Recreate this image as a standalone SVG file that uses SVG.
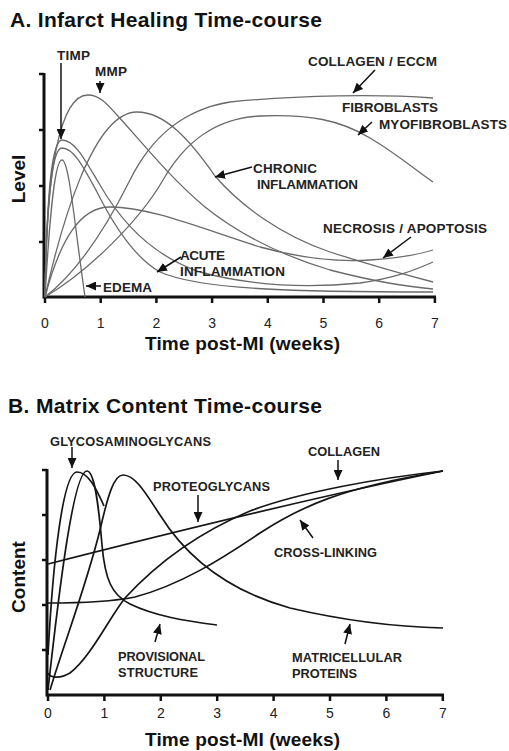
<svg xmlns="http://www.w3.org/2000/svg" width="509" height="751" viewBox="0 0 509 751">
<style>
.title{font-family:"Liberation Sans",Arial,sans-serif;font-weight:bold;font-size:21px;fill:#111}
.axlab{font-family:"Liberation Sans",Arial,sans-serif;font-weight:bold;font-size:19px;fill:#111}
.tick{font-family:"Liberation Sans",Arial,sans-serif;font-size:14px;fill:#222;text-anchor:middle}
.la{font-family:"Liberation Sans",Arial,sans-serif;font-weight:bold;font-size:13.5px;fill:#222}
.lb{font-family:"Liberation Sans",Arial,sans-serif;font-weight:bold;font-size:12.8px;fill:#222}
.axis{stroke:#111;stroke-width:3;fill:none}
.tk{stroke:#111;stroke-width:2.5;fill:none}
.ca{stroke:#6a6a6a;stroke-width:1.3;fill:none}
.cb{stroke:#151515;stroke-width:1.7;fill:none}
.arr{stroke:#111;stroke-width:1.5;fill:none;marker-end:url(#ah)}
</style>
<defs>
<marker id="ah" markerUnits="userSpaceOnUse" markerWidth="11" markerHeight="9" refX="10" refY="4.5" orient="auto">
<path d="M0,0 L10,4.5 L0,9 z" fill="#111"/>
</marker>
</defs>
<rect width="509" height="751" fill="#fff"/>

<g id="panelA">
<text class="title" x="10" y="27" textLength="312">A. Infarct Healing Time-course</text>
<g id="axesA">
<path class="axis" d="M44,73 V297 H436"/>
<path class="tk" d="M39,74 H44 M39,130 H44 M39,186 H44 M39,242 H44"/>
<path class="tk" d="M45,297 V303 M100.7,297 V303 M156.4,297 V303 M212.1,297 V303 M267.8,297 V303 M323.5,297 V303 M379.2,297 V303 M434.9,297 V303"/>
<text class="tick" x="45" y="328">0</text>
<text class="tick" x="100.7" y="328">1</text>
<text class="tick" x="156.4" y="328">2</text>
<text class="tick" x="212.1" y="328">3</text>
<text class="tick" x="267.8" y="328">4</text>
<text class="tick" x="323.5" y="328">5</text>
<text class="tick" x="379.2" y="328">6</text>
<text class="tick" x="434.9" y="328">7</text>
<text class="axlab" x="145" y="350" textLength="195">Time post-MI (weeks)</text>
<text class="axlab" transform="translate(25,179) rotate(-90)" text-anchor="middle">Level</text>
</g>
<g id="curvesA">
<path id="edema" class="ca" d="M45,297 C50,210 55,160 62,160 C69,160 74,220 85,297"/>
<path id="timp" class="ca" d="M45,297 C47,190 52,140 62,140 C75,140 85,160 100,185 C120,220 150,255 200,272 C260,288 320,287 360,283 C395,278 415,270 433,262"/>
<path id="acute" class="ca" d="M45,297 C47,195 52,148 62,148 C74,148 84,168 97,192 C115,228 135,258 160,272 C200,290 300,292 433,292"/>
<path id="mmp" class="ca" d="M45,297 C46,170 60,95 88,95 C100,95 108,105 117,115 C140,140 170,178 205,207 C240,235 280,255 330,270 C380,283 410,287 433,289"/>
<path id="chronic" class="ca" d="M45,297 C60,230 92,112 137,112 C165,112 190,140 215,176 C240,205 280,235 330,252 C380,268 410,276 433,282"/>
<path id="collagenA" class="ca" d="M45,297 C80,270 110,220 130,180 C150,140 180,110 230,102 C300,95 380,94 433,98"/>
<path id="fibro" class="ca" d="M45,297 C90,270 140,220 163,180 C185,142 215,118 260,116 C310,114 340,120 370,138 C400,156 415,170 433,182"/>
<path id="necrosis" class="ca" d="M45,297 C60,240 80,207 110,207 C150,207 200,228 260,247 C300,258 340,262 370,260 C400,258 420,254 433,250"/>
</g>
<g id="labelsA">
<text class="la" x="57" y="60" textLength="33">TIMP</text>
<text class="la" x="95" y="76" textLength="32">MMP</text>
<text class="la" x="308" y="66" textLength="129">COLLAGEN / ECCM</text>
<text class="la" x="342" y="112" textLength="96">FIBROBLASTS</text>
<text class="la" x="379" y="129" textLength="128">MYOFIBROBLASTS</text>
<text class="la" x="253" y="173" textLength="64">CHRONIC</text>
<text class="la" x="257" y="189" textLength="101">INFLAMMATION</text>
<text class="la" x="323" y="233" textLength="164">NECROSIS / APOPTOSIS</text>
<text class="la" x="180" y="260" textLength="45">ACUTE</text>
<text class="la" x="180" y="276" textLength="105">INFLAMMATION</text>
<text class="la" x="103" y="292" textLength="49">EDEMA</text>
</g>
<g id="arrowsA">
<path class="arr" d="M61,63 V139"/>
<path class="arr" d="M100,81 V93"/>
<path class="arr" d="M375,70 L353,93"/>
<path class="arr" d="M372,122 L358,135"/>
<path class="arr" d="M252,167 L215,177"/>
<path class="arr" d="M411,237 L383,258"/>
<path class="arr" d="M181,257 L157,272"/>
<path class="arr" d="M101,286 H86"/>
</g>
</g>

<g id="panelB">
<text class="title" x="8" y="413" textLength="314">B. Matrix Content Time-course</text>
<g id="axesB">
<path class="axis" d="M47,469 V695 H444"/>
<path class="tk" d="M42,470 H47 M42,515 H47 M42,560 H47 M42,605 H47 M42,650 H47"/>
<path class="tk" d="M48,695 V701 M104.4,695 V701 M160.8,695 V701 M217.2,695 V701 M273.6,695 V701 M330,695 V701 M386.4,695 V701 M442.8,695 V701"/>
<text class="tick" x="48" y="718">0</text>
<text class="tick" x="104.4" y="718">1</text>
<text class="tick" x="160.8" y="718">2</text>
<text class="tick" x="217.2" y="718">3</text>
<text class="tick" x="273.6" y="718">4</text>
<text class="tick" x="330" y="718">5</text>
<text class="tick" x="386.4" y="718">6</text>
<text class="tick" x="442.8" y="718">7</text>
<text class="axlab" x="145" y="746" textLength="195">Time post-MI (weeks)</text>
<text class="axlab" transform="translate(25,577) rotate(-90)" text-anchor="middle">Content</text>
</g>
<g id="curvesB">
<path id="gag" class="cb" d="M48,655 C53,560 63,472 77,472 C88,472 96,488 104,506"/>
<path id="provisional" class="cb" d="M48,690 C58,600 73,471 87,471 C95,471 99,510 102,545 C105,580 112,595 130,604 C155,616 185,621 217,625"/>
<path id="matricellular" class="cb" d="M50,690 C65,640 85,590 100,530 C108,495 114,475 123,475 C135,475 145,492 160,515 C185,555 225,590 290,608 C350,622 400,627 443,628"/>
<path id="proteoglycans" class="cb" d="M48,564 C150,538 300,500 443,471"/>
<path id="collagenB" class="cb" d="M48,673 C50,678 60,679 70,673 C90,658 108,620 125,598 C160,560 200,532 250,511 C300,492 380,478 443,471"/>
<path id="crosslink" class="cb" d="M48,603 C80,603 110,602 135,597 C180,585 220,560 260,533 C300,507 340,488 443,471"/>
</g>
<g id="labelsB">
<text class="lb" x="50" y="446" textLength="161">GLYCOSAMINOGLYCANS</text>
<text class="lb" x="153" y="491" textLength="117">PROTEOGLYCANS</text>
<text class="lb" x="308" y="456" textLength="72">COLLAGEN</text>
<text class="lb" x="274" y="557" textLength="103">CROSS-LINKING</text>
<text class="lb" x="118" y="661" textLength="87">PROVISIONAL</text>
<text class="lb" x="118" y="677" textLength="80">STRUCTURE</text>
<text class="lb" x="292" y="662" textLength="110">MATRICELLULAR</text>
<text class="lb" x="292" y="678" textLength="65">PROTEINS</text>
</g>
<g id="arrowsB">
<path class="arr" d="M72,447 V468"/>
<path class="arr" d="M198,495 V522"/>
<path class="arr" d="M338,460 V480"/>
<path class="arr" d="M313,538 L300,520"/>
<path class="arr" d="M155,642 L160,624"/>
<path class="arr" d="M345,644 L350,624"/>
</g>
</g>
</svg>
